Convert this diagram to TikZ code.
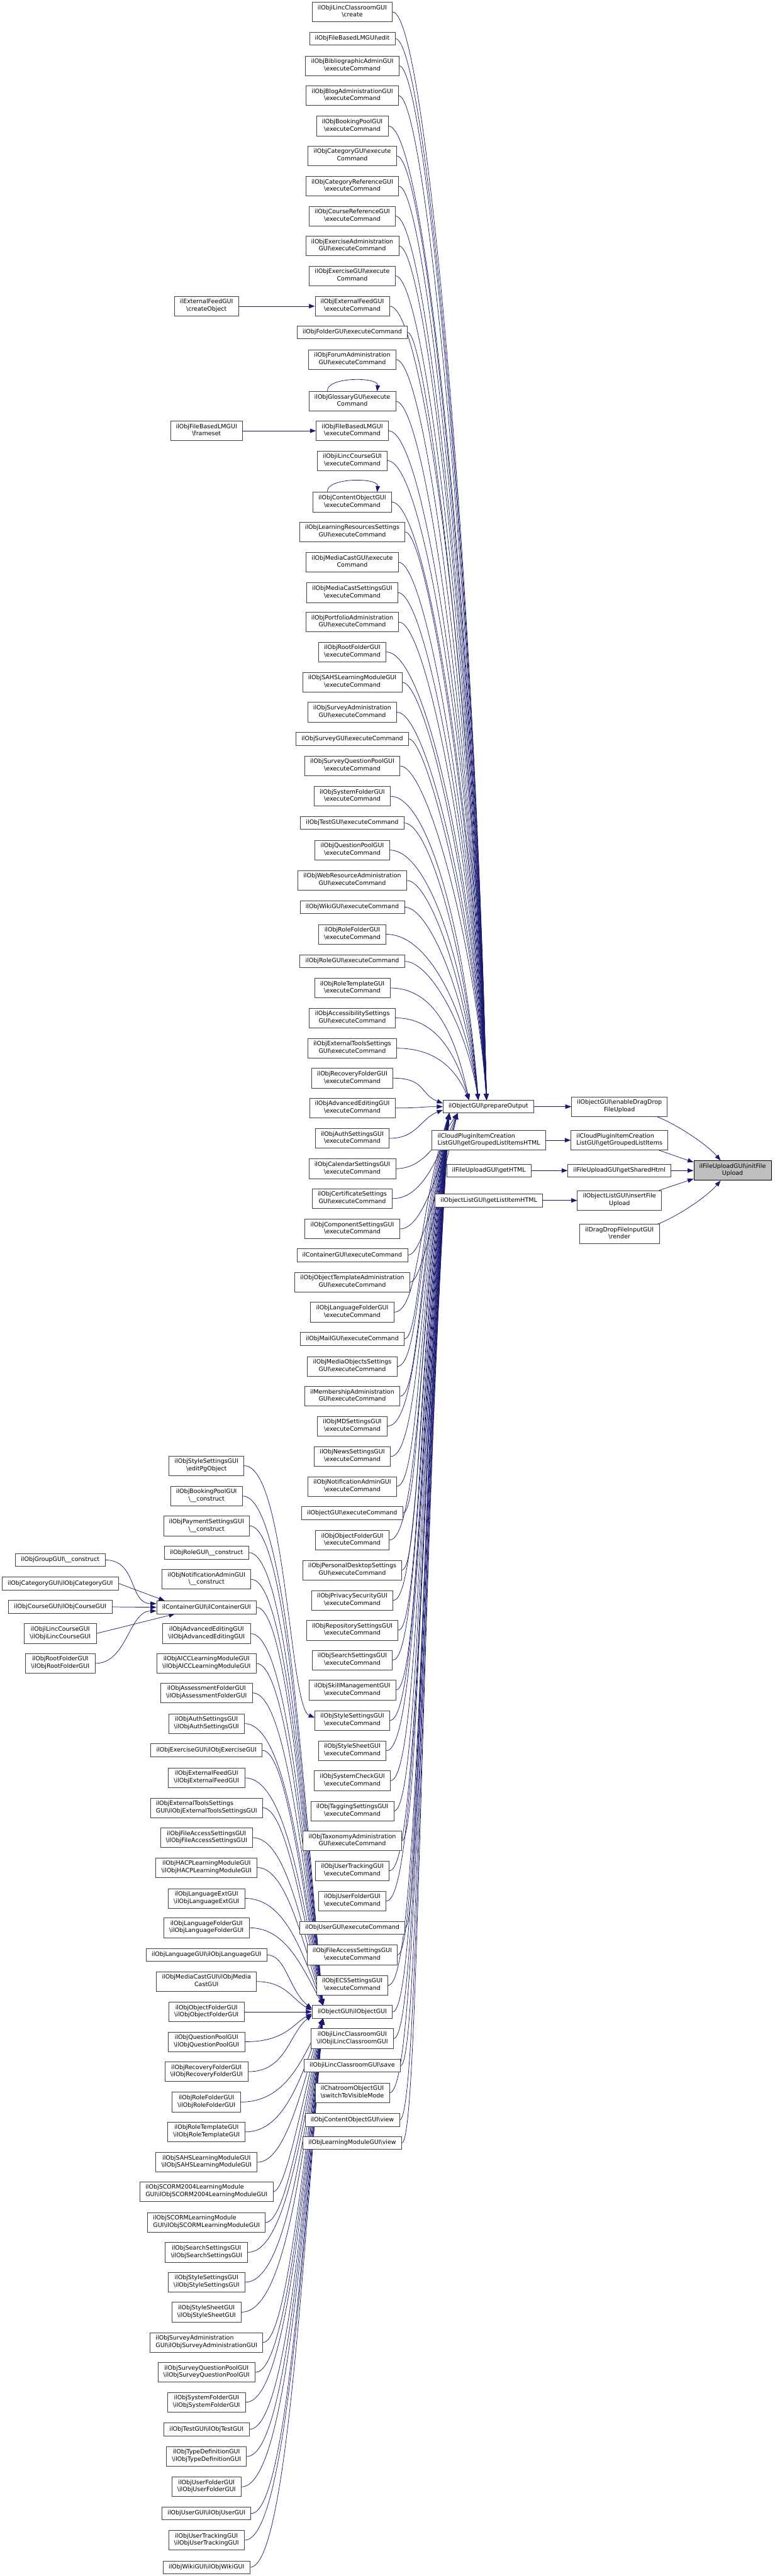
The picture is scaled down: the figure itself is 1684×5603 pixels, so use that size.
\documentclass[tikz,border=0pt]{standalone}
\usepackage{fontspec}
\setmainfont{DejaVu Sans}
\usetikzlibrary{arrows.meta,calc}
\definecolor{edgec}{HTML}{191970}
\definecolor{boxc}{HTML}{404040}
\definecolor{rootc}{HTML}{BFBFBF}
\newcommand\qbs{\textbackslash}
\pgfdeclarelayer{edgelayer}
\pgfsetlayers{edgelayer,main}
\begin{document}
\begin{tikzpicture}[x=1pt,y=-1pt,
  box/.style={draw=boxc, line width=1pt, fill=white, inner xsep=12pt, inner ysep=6pt,
    align=center, font=\fontsize{13}{16}\selectfont,
    execute at begin node=\strut, execute at end node=\strut},
  lbox/.style={box, align=left},
  rootbox/.style={box, fill=rootc, draw=black},
  edge/.style={draw=edgec, line width=1pt, -{Triangle[length=13pt,width=9.5pt]}}]
\begin{pgfonlayer}{edgelayer}
\fill[white] (0,0) rectangle (1684,5603);
\end{pgfonlayer}
\useasboundingbox (0,0) rectangle (1684,5603);

% ---------- middle column ----------
\foreach \i/\y/\txt in {
 1/26/{ilObjiLincClassroomGUI\\\qbs create},
 2/84/{ilObjFileBasedLMGUI\qbs edit},
 3/143/{ilObjBibliographicAdminGUI\\\qbs executeCommand},
 4/208/{ilObjBlogAdministrationGUI\\\qbs executeCommand},
 5/274/{ilObjBookingPoolGUI\\\qbs executeCommand},
 6/339/{ilObjCategoryGUI\qbs execute\\Command},
 7/405/{ilObjCategoryReferenceGUI\\\qbs executeCommand},
 8/470/{ilObjCourseReferenceGUI\\\qbs executeCommand},
 9/535/{ilObjExerciseAdministration\\GUI\qbs executeCommand},
 10/600/{ilObjExerciseGUI\qbs execute\\Command},
 11/666/{ilObjExternalFeedGUI\\\qbs executeCommand},
 12/723/{ilObjFolderGUI\qbs executeCommand},
 13/782/{ilObjForumAdministration\\GUI\qbs executeCommand},
 14/873/{ilObjGlossaryGUI\qbs execute\\Command},
 15/937/{ilObjFileBasedLMGUI\\\qbs executeCommand},
 16/1002/{ilObjiLincCourseGUI\\\qbs executeCommand},
 17/1092/{ilObjContentObjectGUI\\\qbs executeCommand},
 18/1157/{ilObjLearningResourcesSettings\\GUI\qbs executeCommand},
 19/1223/{ilObjMediaCastGUI\qbs execute\\Command},
 20/1289/{ilObjMediaCastSettingsGUI\\\qbs executeCommand},
 21/1353/{ilObjPortfolioAdministration\\GUI\qbs executeCommand},
 22/1418/{ilObjRootFolderGUI\\\qbs executeCommand},
 23/1484/{ilObjSAHSLearningModuleGUI\\\qbs executeCommand},
 24/1549/{ilObjSurveyAdministration\\GUI\qbs executeCommand},
 25/1607/{ilObjSurveyGUI\qbs executeCommand},
 26/1666/{ilObjSurveyQuestionPoolGUI\\\qbs executeCommand},
 27/1732/{ilObjSystemFolderGUI\\\qbs executeCommand},
 28/1790/{ilObjTestGUI\qbs executeCommand},
 29/1849/{ilObjQuestionPoolGUI\\\qbs executeCommand},
 30/1915/{ilObjWebResourceAdministration\\GUI\qbs executeCommand},
 31/1973/{ilObjWikiGUI\qbs executeCommand},
 32/2032/{ilObjRoleFolderGUI\\\qbs executeCommand},
 33/2091/{ilObjRoleGUI\qbs executeCommand},
 34/2149/{ilObjRoleTemplateGUI\\\qbs executeCommand},
 35/2214/{ilObjAccessibilitySettings\\GUI\qbs executeCommand},
 36/2280/{ilObjExternalToolsSettings\\GUI\qbs executeCommand},
 37/2345/{ilObjRecoveryFolderGUI\\\qbs executeCommand},
 38/2410/{ilObjAdvancedEditingGUI\\\qbs executeCommand},
 39/2476/{ilObjAuthSettingsGUI\\\qbs executeCommand},
 40/2542/{ilObjCalendarSettingsGUI\\\qbs executeCommand},
 41/2607/{ilObjCertificateSettings\\GUI\qbs executeCommand},
 42/2673/{ilObjComponentSettingsGUI\\\qbs executeCommand},
 43/2730/{ilContainerGUI\qbs executeCommand},
 44/2789/{ilObjObjectTemplateAdministration\\GUI\qbs executeCommand},
 45/2854/{ilObjLanguageFolderGUI\\\qbs executeCommand},
 46/2912/{ilObjMailGUI\qbs executeCommand},
 47/2972/{ilObjMediaObjectsSettings\\GUI\qbs executeCommand},
 48/3037/{ilMembershipAdministration\\GUI\qbs executeCommand},
 49/3102/{ilObjMDSettingsGUI\\\qbs executeCommand},
 50/3168/{ilObjNewsSettingsGUI\\\qbs executeCommand},
 51/3233/{ilObjNotificationAdminGUI\\\qbs executeCommand},
 52/3291/{ilObjectGUI\qbs executeCommand},
 53/3350/{ilObjObjectFolderGUI\\\qbs executeCommand},
 54/3415/{ilObjPersonalDesktopSettings\\GUI\qbs executeCommand},
 55/3481/{ilObjPrivacySecurityGUI\\\qbs executeCommand},
 56/3546/{ilObjRepositorySettingsGUI\\\qbs executeCommand},
 57/3611/{ilObjSearchSettingsGUI\\\qbs executeCommand},
 58/3676/{ilObjSkillManagementGUI\\\qbs executeCommand},
 59/3742/{ilObjStyleSettingsGUI\\\qbs executeCommand},
 60/3808/{ilObjStyleSheetGUI\\\qbs executeCommand},
 61/3873/{ilObjSystemCheckGUI\\\qbs executeCommand},
 62/3939/{ilObjTaggingSettingsGUI\\\qbs executeCommand},
 63/4004/{ilObjTaxonomyAdministration\\GUI\qbs executeCommand},
 64/4069/{ilObjUserTrackingGUI\\\qbs executeCommand},
 65/4135/{ilObjUserFolderGUI\\\qbs executeCommand},
 66/4193/{ilObjUserGUI\qbs executeCommand},
 67/4252/{ilObjFileAccessSettingsGUI\\\qbs executeCommand},
 68/4318/{ilObjECSSettingsGUI\\\qbs executeCommand},
 69/4376/{ilObjectGUI\qbs ilObjectGUI},
 70/4434/{ilObjiLincClassroomGUI\\\qbs ilObjiLincClassroomGUI},
 71/4493/{ilObjiLincClassroomGUI\qbs save},
 72/4552/{ilChatroomObjectGUI\\\qbs switchToVisibleMode},
 73/4611/{ilObjContentObjectGUI\qbs view},
 74/4661/{ilObjLearningModuleGUI\qbs view}}
 {\node[box] (m\i) at (766,\y) {\txt};}

% ---------- column 2 ----------
\node[box] (ca) at (449,666) {ilExternalFeedGUI\\\qbs createObject};
\node[box] (cb) at (449,937) {ilObjFileBasedLMGUI\\\qbs frameset};
\foreach \i/\y/\txt in {
 1/3188/{ilObjStyleSettingsGUI\\\qbs editPgObject},
 2/3254/{ilObjBookingPoolGUI\\\qbs \_\_construct},
 3/3319/{ilObjPaymentSettingsGUI\\\qbs \_\_construct},
 4/3377/{ilObjRoleGUI\qbs \_\_construct},
 5/3435/{ilObjNotificationAdminGUI\\\qbs \_\_construct},
 6/3496/{ilContainerGUI\qbs ilContainerGUI},
 7/3553/{ilObjAdvancedEditingGUI\\\qbs ilObjAdvancedEditingGUI},
 8/3618/{ilObjAICCLearningModuleGUI\\\qbs ilObjAICCLearningModuleGUI},
 9/3682/{ilObjAssessmentFolderGUI\\\qbs ilObjAssessmentFolderGUI},
 10/3749/{ilObjAuthSettingsGUI\\\qbs ilObjAuthSettingsGUI},
 11/3807/{ilObjExerciseGUI\qbs ilObjExerciseGUI},
 12/3867/{ilObjExternalFeedGUI\\\qbs ilObjExternalFeedGUI},
 14/3997/{ilObjFileAccessSettingsGUI\\\qbs ilObjFileAccessSettingsGUI},
 15/4062/{ilObjHACPLearningModuleGUI\\\qbs ilObjHACPLearningModuleGUI},
 16/4129/{ilObjLanguageExtGUI\\\qbs ilObjLanguageExtGUI},
 17/4193/{ilObjLanguageFolderGUI\\\qbs ilObjLanguageFolderGUI},
 18/4252/{ilObjLanguageGUI\qbs ilObjLanguageGUI},
 19/4310/{ilObjMediaCastGUI\qbs ilObjMedia\\CastGUI},
 20/4376/{ilObjObjectFolderGUI\\\qbs ilObjObjectFolderGUI},
 21/4441/{ilObjQuestionPoolGUI\\\qbs ilObjQuestionPoolGUI},
 22/4506/{ilObjRecoveryFolderGUI\\\qbs ilObjRecoveryFolderGUI},
 23/4572/{ilObjRoleFolderGUI\\\qbs ilObjRoleFolderGUI},
 24/4637/{ilObjRoleTemplateGUI\\\qbs ilObjRoleTemplateGUI},
 25/4703/{ilObjSAHSLearningModuleGUI\\\qbs ilObjSAHSLearningModuleGUI},
 28/4899/{ilObjSearchSettingsGUI\\\qbs ilObjSearchSettingsGUI},
 29/4964/{ilObjStyleSettingsGUI\\\qbs ilObjStyleSettingsGUI},
 30/5029/{ilObjStyleSheetGUI\\\qbs ilObjStyleSheetGUI},
 32/5160/{ilObjSurveyQuestionPoolGUI\\\qbs ilObjSurveyQuestionPoolGUI},
 33/5225/{ilObjSystemFolderGUI\\\qbs ilObjSystemFolderGUI},
 34/5284/{ilObjTestGUI\qbs ilObjTestGUI},
 35/5343/{ilObjTypeDefinitionGUI\\\qbs ilObjTypeDefinitionGUI},
 36/5409/{ilObjUserFolderGUI\\\qbs ilObjUserFolderGUI},
 37/5467/{ilObjUserGUI\qbs ilObjUserGUI},
 38/5525/{ilObjUserTrackingGUI\\\qbs ilObjUserTrackingGUI},
 39/5584/{ilObjWikiGUI\qbs ilObjWikiGUI}}
 {\node[box] (k\i) at (449,\y) {\txt};}
\node[lbox] (k13) at (449,3932) {ilObjExternalToolsSettings\\GUI\qbs ilObjExternalToolsSettingsGUI};
\node[lbox] (k26) at (449,4767) {ilObjSCORM2004LearningModule\\GUI\qbs ilObjSCORM2004LearningModuleGUI};
\node[lbox] (k27) at (449,4834) {ilObjSCORMLearningModule\\GUI\qbs ilObjSCORMLearningModuleGUI};
\node[lbox] (k31) at (449,5095) {ilObjSurveyAdministration\\GUI\qbs ilObjSurveyAdministrationGUI};

% ---------- column 1 ----------
\node[box] (g1) at (131,3393) {ilObjGroupGUI\qbs \_\_construct};
\node[box] (g2) at (131,3444) {ilObjCategoryGUI\qbs ilObjCategoryGUI};
\node[box] (g3) at (131,3495) {ilObjCourseGUI\qbs ilObjCourseGUI};
\node[box] (g4) at (131,3553) {ilObjiLincCourseGUI\\\qbs ilObjiLincCourseGUI};
\node[box] (g5) at (131,3618) {ilObjRootFolderGUI\\\qbs ilObjRootFolderGUI};

% ---------- right part ----------
\node[box] (po) at (1062,2407) {ilObjectGUI\qbs prepareOutput};
\node[box] (ed) at (1347,2407) {ilObjectGUI\qbs enableDragDrop\\FileUpload};
\node[lbox] (clh) at (1063,2480) {ilCloudPluginItemCreation\\ListGUI\qbs getGroupedListItemsHTML};
\node[lbox] (cli) at (1347,2480) {ilCloudPluginItemCreation\\ListGUI\qbs getGroupedListItems};
\node[box] (fgh) at (1063,2546) {ilFileUploadGUI\qbs getHTML};
\node[box] (fsh) at (1347,2546) {ilFileUploadGUI\qbs getSharedHtml};
\node[box] (olh) at (1063,2611) {ilObjectListGUI\qbs getListItemHTML};
\node[box] (oif) at (1347,2611) {ilObjectListGUI\qbs insertFile\\Upload};
\node[box] (ddr) at (1347,2684) {ilDragDropFileInputGUI\\\qbs render};
\node[rootbox] (ifu) at (1593,2546) {ilFileUploadGUI\qbs initFile\\Upload};

\begin{pgfonlayer}{edgelayer}
% ---------- edges: middle -> prepareOutput ----------
\foreach \i/\y in {1/26,2/84,3/143,4/208,5/274,6/339,7/405,8/470,9/535,10/600,11/666,12/723,13/782,14/873,15/937,16/1002,17/1092,18/1157,19/1223,20/1289,21/1353,22/1418,23/1484,24/1549,25/1607,26/1666}{
  \pgfmathsetmacro\c{-0.45*(2407-\y)}
  \draw[edge] (m\i.east) .. controls (930,\y) and +(-25,\c) .. ($(po.north)+(-4,0)$);}
\foreach \i/\y in {27/1732,28/1790,29/1849,30/1915,31/1973,32/2032,33/2091}{
  \pgfmathsetmacro\c{-0.5*(2407-\y)}
  \draw[edge] (m\i.east) .. controls (935,\y) and +(-25,\c) .. ($(po.north)+(-22,0)$);}
\foreach \i/\y in {34/2149,35/2214,36/2280}{
  \pgfmathsetmacro\c{-0.55*(2407-\y)}
  \draw[edge] (m\i.east) .. controls (945,\y) and +(-30,\c) .. ($(po.north)+(-42,0)$);}
\draw[edge] (m37.east) .. controls +(70,0) and +(-50,-20) .. ($(po.west)+(0,-7)$);
\draw[edge] (m38.east) .. controls +(60,0) and +(-50,0) .. (po.west);
\draw[edge] (m39.east) .. controls +(60,0) and +(-50,20) .. ($(po.west)+(0,7)$);
\foreach \i/\y in {40/2542,41/2607,42/2673,43/2730,44/2789}{
  \pgfmathsetmacro\c{0.5*(\y-2407)}
  \draw[edge] (m\i.east) .. controls (918,\y) and +(-45,\c) .. ($(po.south west)+(32,0)$);}
\foreach \i/\y in {45/2854,46/2912,47/2972,48/3037,49/3102,50/3168,51/3233,52/3291,53/3350,54/3415,55/3481,56/3546,57/3611,58/3676,59/3742,60/3808,61/3873,62/3939,63/4004,64/4069,65/4135,66/4193,67/4252,68/4318,69/4376,70/4434,71/4493,72/4552,73/4611,74/4661}{
  \pgfmathsetmacro\c{0.45*(\y-2407)}
  \draw[edge] (m\i.east) .. controls (912,\y) and +(-65,\c) .. ($(po.south west)+(14,0)$);}

% self loops
\draw[edge] ($(m14.north)+(-54,0)$) .. controls +(-4,-32) and +(4,-32) .. ($(m14.north)+(54,0)$);
\draw[edge] ($(m17.north)+(-54,0)$) .. controls +(-4,-32) and +(4,-32) .. ($(m17.north)+(54,0)$);

% ---------- edges: column 2 -> middle ----------
\draw[edge] (ca.east) -- (m11.west);
\draw[edge] (cb.east) -- (m15.west);
\draw[edge] (k1.east) .. controls (622,3188) and +(-55,-22) .. ($(m59.west)+(0,-6)$);
\foreach \i/\y in {2/3254,3/3319,4/3377,5/3435,6/3496,7/3553,8/3618,9/3682,10/3749,11/3807,12/3867,13/3932,14/3997,15/4062,16/4129,17/4193}{
  \pgfmathsetmacro\c{-0.45*(4376-\y)}
  \draw[edge] (k\i.east) .. controls (622,\y) and +(-45,\c) .. ($(m69.north west)+(24,0)$);}
\draw[edge] (k18.east) .. controls (622,4252) and +(-50,-40) .. ($(m69.west)+(0,-7)$);
\draw[edge] (k19.east) .. controls (622,4310) and +(-40,-20) .. ($(m69.west)+(0,-4)$);
\draw[edge] (k20.east) -- (m69.west);
\draw[edge] (k21.east) .. controls (622,4441) and +(-40,20) .. ($(m69.west)+(0,4)$);
\draw[edge] (k22.east) .. controls (622,4506) and +(-50,40) .. ($(m69.west)+(0,7)$);
\foreach \i/\y in {23/4572,24/4637,25/4703,26/4767,27/4834,28/4899,29/4964,30/5029,31/5095,32/5160,33/5225,34/5284,35/5343,36/5409,37/5467,38/5525,39/5584}{
  \pgfmathsetmacro\c{0.45*(\y-4376)}
  \draw[edge] (k\i.east) .. controls (622,\y) and +(-45,\c) .. ($(m69.south west)+(24,0)$);}

% ---------- edges: column 1 -> ilContainerGUI ----------
\draw[edge] (g1.east) .. controls +(70,0) and +(-60,0) .. ($(k6.west)+(0,-8)$);
\draw[edge] (g2.east) -- ($(k6.north west)+(18,0)$);
\draw[edge] (g3.east) -- (k6.west);
\draw[edge] (g4.east) -- ($(k6.south west)+(40,0)$);
\draw[edge] (g5.east) .. controls +(70,0) and +(-60,0) .. ($(k6.west)+(0,8)$);

% ---------- edges: right part ----------
\draw[edge] (po.east) -- (ed.west);
\draw[edge] ($(ed.south east)+(-23,0)$) .. controls +(45,18) and +(-30,-35) .. ($(ifu.north)+(-26,0)$);
\draw[edge] (clh.east) -- (cli.west);
\draw[edge] ($(cli.south east)+(-20,0)$) -- ($(ifu.west)+(0,-18)$);
\draw[edge] (fgh.east) -- (fsh.west);
\draw[edge] (fsh.east) -- (ifu.west);
\draw[edge] (olh.east) -- (oif.west);
\draw[edge] ($(oif.north east)+(-6,0)$) -- ($(ifu.west)+(0,18)$);
\draw[edge] ($(ddr.north east)+(-3,0)$) .. controls +(45,-18) and +(-30,35) .. ($(ifu.south)+(-26,0)$);
\end{pgfonlayer}
\end{tikzpicture}
\end{document}
